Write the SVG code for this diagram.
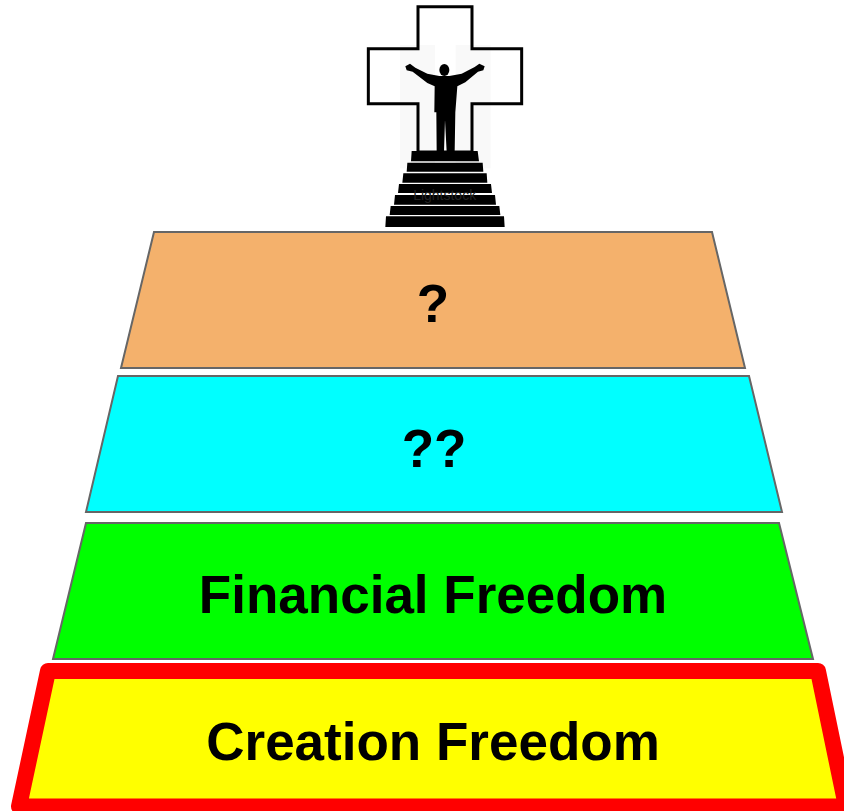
<svg xmlns="http://www.w3.org/2000/svg" width="844" height="811" viewBox="0 0 844 811">
<style>
.tier{stroke:#666;stroke-width:2;stroke-linejoin:miter}
.lbl{font-family:"Liberation Sans",Arial,sans-serif;font-weight:700;font-size:53px;fill:#000;text-anchor:middle}
</style>
<rect width="844" height="811" fill="#fff"/>
<g id="cross-figure">
<g transform="translate(350 0) scale(0.33333)">
<g fill="#f9f9f9">
<rect x="150" y="135" width="105" height="370"/>
<rect x="317" y="135" width="105" height="370"/>
</g>
<path d="M204 20H366V146H515V311H366V456H204V311H55V146H204Z" fill="none" stroke="#000" stroke-width="9"/>
<path fill="#000" d="M185 453H383L387 484H183Z M172 488H398L400 515H170Z M160 520H410L412 548H157Z M147 552H423L426 579H144Z M135 585H435L438 614H132Z M122 618H448L451 645H119Z M108 649H462L464 681H106Z"/>
<text x="284" y="600" font-family="Liberation Sans,sans-serif" font-size="42" text-anchor="middle" fill="#222">Lightstock</text>
</g>
<g transform="translate(400 55) scale(0.33333)" fill="#000">
<ellipse cx="133" cy="45" rx="15" ry="18"/>
<path d="M16 34L30 26L46 38L82 56L118 63H148L185 56L224 36L238 26L254 34L250 46L234 50L196 82L172 94L166 172L164 290H140L135 195L132 290H110L109 172L103 172L104 94L82 84L38 50L20 46Z"/>
</g>
</g>
<g id="tier-orange">
<polygon class="tier" points="154,232 712,232 745,368 121,368" fill="#f4b16c"/>
<text class="lbl" x="433" y="322">?</text>
</g>
<g id="tier-cyan">
<polygon class="tier" points="118,376 749,376 782,512 86,512" fill="#00ffff"/>
<text class="lbl" x="434" y="467">??</text>
</g>
<g id="tier-green">
<polygon class="tier" points="86,523 779,523 813,659 53,659" fill="#00ff00"/>
<text class="lbl" x="433" y="613">Financial Freedom</text>
</g>
<g id="tier-yellow">
<polygon points="48,671 818,671 846,806.5 19,806.5" fill="#ffff00" stroke="#ff0000" stroke-width="16" stroke-linejoin="round"/>
<text class="lbl" x="433" y="760">Creation Freedom</text>
</g>
</svg>
